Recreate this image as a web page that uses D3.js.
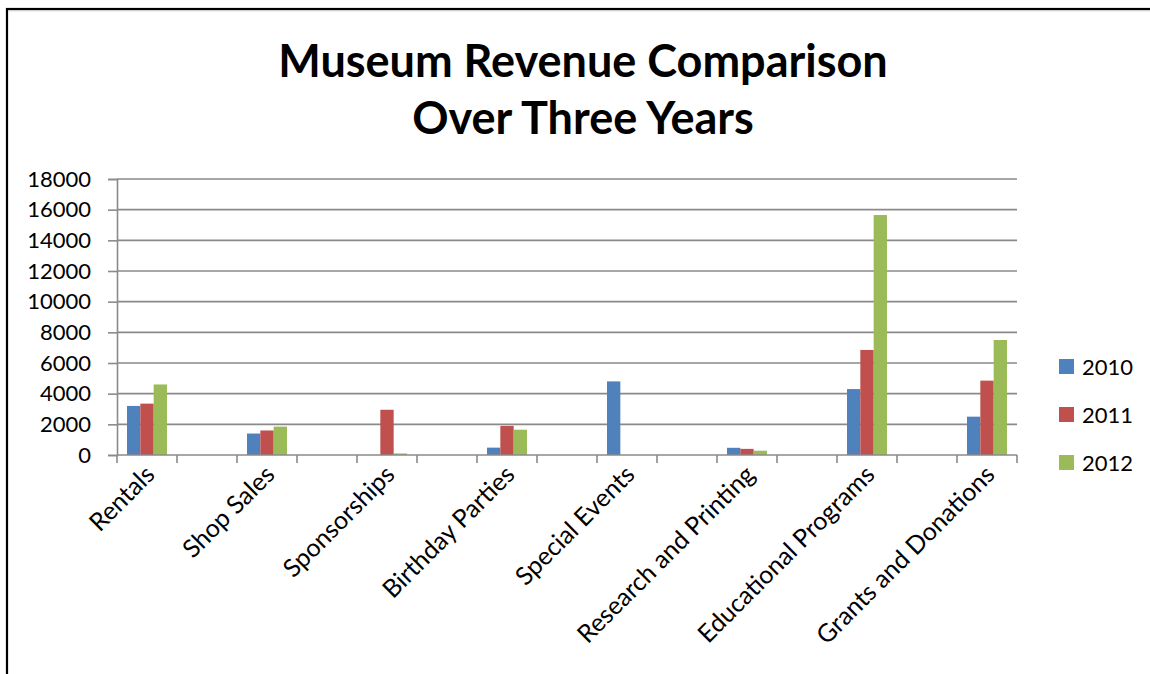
<!DOCTYPE html>
<html>
<head>
<meta charset="utf-8">
<script src="https://cdn.jsdelivr.net/npm/d3@7"></script>
<style>
  html, body { margin: 0; padding: 0; background: #fff; }
  svg { display: block; }
  text { font-family: Lato, "Open Sans", sans-serif; fill: #000; }
</style>
</head>
<body>
<svg id="chart" width="1150" height="674"></svg>
<script>
// Revenue by source, per year
const categories = ["Rentals", "Shop Sales", "Sponsorships", "Birthday Parties",
  "Special Events", "Research and Printing", "Educational Programs", "Grants and Donations"];
const years = ["2010", "2011", "2012"];
const revenue2010 = [3200, 1400, 0, 480, 4800, 470, 4300, 2500];
const revenue2011 = [3350, 1600, 2950, 1900, 0, 400, 6850, 4850];
const revenue2012 = [4600, 1850, 100, 1650, 0, 280, 15650, 7500];
const yTicks = [0, 2000, 4000, 6000, 8000, 10000, 12000, 14000, 16000, 18000];
const colors = ["#4F81BD", "#C0504D", "#9BBB59"];
const titleLines = ["Museum Revenue Comparison", "Over Three Years"];

const seriesValues = [revenue2010, revenue2011, revenue2012];

const svg = d3.select("#chart");
const W = 1150, H = 674;
const plot = { left: 117, right: 1017, top: 179, bottom: 455 };

// outer frame
svg.append("rect")
  .attr("x", 7).attr("y", 9).attr("width", W + 20).attr("height", H + 20)
  .attr("fill", "#fff").attr("stroke", "#000").attr("stroke-width", 2.2);
svg.append("line")
  .attr("x1", 8).attr("x2", W).attr("y1", 10.8).attr("y2", 10.8)
  .attr("stroke", "#c8c8c8").attr("stroke-width", 1);

// title
svg.append("g").selectAll("text").data(titleLines).join("text")
  .attr("x", 583).attr("y", (d, i) => 77 + i * 57)
  .attr("text-anchor", "middle")
  .style("font-weight", "700").style("font-size", "45px")
  .text(d => d);

// category slots: each category followed by an empty slot
const slots = [];
categories.forEach((c, i) => {
  slots.push("c" + i);
  if (i < categories.length - 1) slots.push("gap" + i);
});

const x = d3.scaleBand().domain(slots).range([plot.left, plot.right]).padding(0);
const xInner = d3.scaleBand().domain(years).range([0, x.bandwidth()])
  .paddingInner(0).paddingOuter(0.75);
const y = d3.scaleLinear().domain([0, 18000]).range([plot.bottom, plot.top]);

// gridlines
svg.append("g").selectAll("line").data(yTicks.filter(t => t > 0)).join("line")
  .attr("x1", plot.left).attr("x2", plot.right)
  .attr("y1", d => y(d)).attr("y2", d => y(d))
  .attr("stroke", "#8a8a8a").attr("stroke-width", 1.6);

// y axis
const yAxis = svg.append("g")
  .attr("transform", `translate(${plot.left},0)`)
  .call(d3.axisLeft(y).tickValues(yTicks).tickSize(9).tickPadding(17).tickFormat(d3.format("d")));
yAxis.select(".domain").attr("stroke", "#8a8a8a").attr("stroke-width", 1.6);
yAxis.selectAll(".tick line").attr("stroke", "#8a8a8a").attr("stroke-width", 1.6);
yAxis.selectAll(".tick text")
  .style("font-family", "Lato, sans-serif").style("font-size", "22px").attr("fill", "#000");

// bars
const groups = svg.append("g").selectAll("g").data(categories).join("g")
  .attr("transform", (d, i) => `translate(${x("c" + i)},0)`);
groups.selectAll("rect")
  .data((d, i) => years.map((yr, k) => ({ yr, k, v: seriesValues[k][i] })))
  .join("rect")
  .attr("x", d => xInner(d.yr))
  .attr("width", xInner.bandwidth())
  .attr("y", d => y(d.v))
  .attr("height", d => y(0) - y(d.v))
  .attr("fill", d => colors[d.k]);

// x axis line and tick marks at every slot boundary
const xAxisG = svg.append("g");
xAxisG.append("line")
  .attr("x1", plot.left).attr("x2", plot.right)
  .attr("y1", plot.bottom).attr("y2", plot.bottom)
  .attr("stroke", "#8a8a8a").attr("stroke-width", 1.6);
const boundaries = slots.map(s => x(s)).concat([plot.right]);
xAxisG.selectAll("line.tick").data(boundaries).join("line")
  .attr("class", "tick")
  .attr("x1", d => d).attr("x2", d => d)
  .attr("y1", plot.bottom).attr("y2", plot.bottom + 8)
  .attr("stroke", "#8a8a8a").attr("stroke-width", 1.6);

// category labels, rotated
svg.append("g").selectAll("text").data(categories).join("text")
  .attr("transform", (d, i) => `translate(${x("c" + i) + x.bandwidth() / 2 + 3},${plot.bottom + 15}) rotate(-45)`)
  .attr("text-anchor", "end")
  .attr("dy", "0.35em")
  .style("font-size", "25px")
  .text(d => d);

// legend
const legend = svg.append("g").selectAll("g").data(years).join("g")
  .attr("transform", (d, i) => `translate(1059,${359 + i * 48})`);
legend.append("rect").attr("width", 15).attr("height", 15).attr("fill", (d, i) => colors[i]);
legend.append("text").attr("x", 23).attr("y", 15.5)
  .style("font-size", "22px").text(d => d);
</script>
</body>
</html>
